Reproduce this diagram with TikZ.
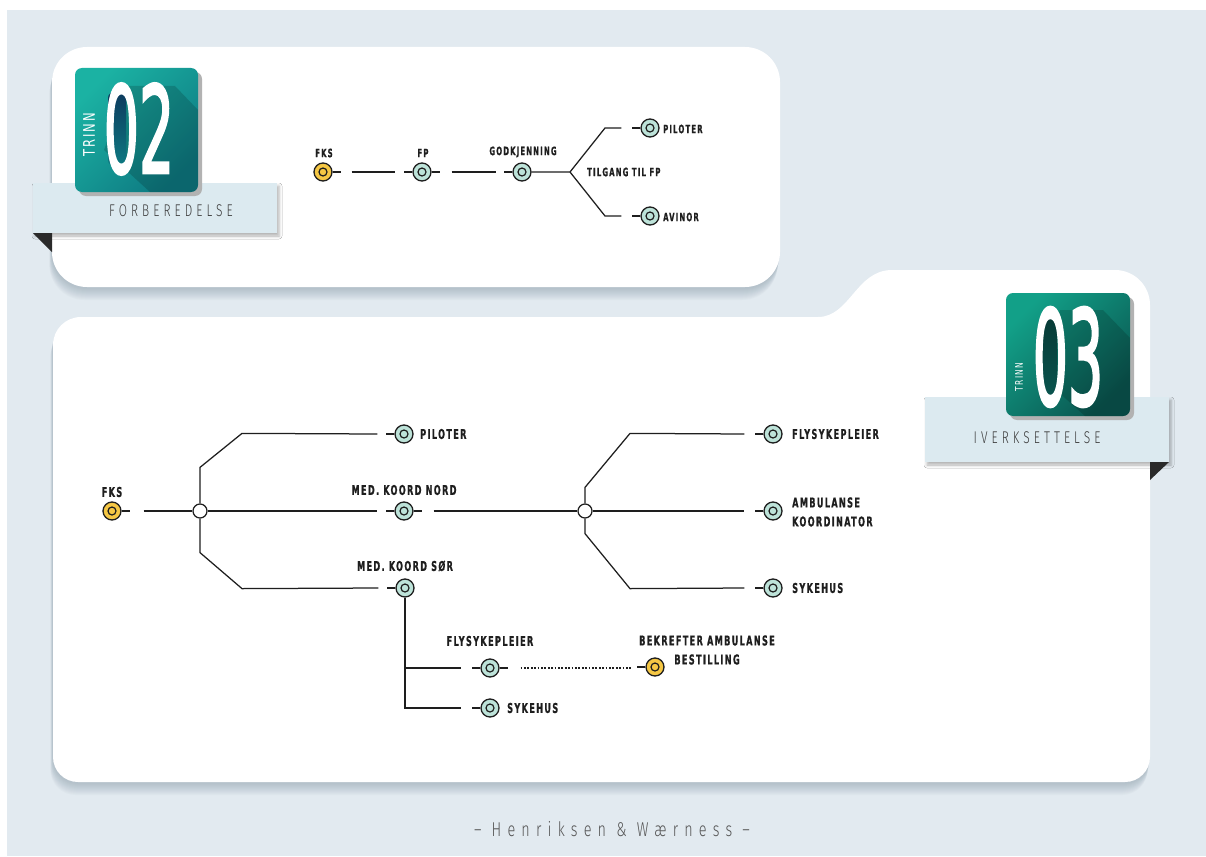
\documentclass[tikz,border=0pt]{standalone}
\usepackage{fontspec}
\usetikzlibrary{shadows.blur}

\newfontfamily\labfont{DejaVu Sans Condensed Bold}[FakeStretch=0.67,LetterSpace=10,FakeBold=0.8]
\newfontfamily\digfont{DejaVu Sans Condensed}[FakeBold=2.5]
\newfontfamily\trinnfont{DejaVu Sans Condensed}[FakeStretch=0.8,LetterSpace=12]
\newfontfamily\thinfont{Fira Sans Light}[FakeStretch=0.7,LetterSpace=24]
\newfontfamily\footfont{Fira Sans Light}[FakeStretch=0.72,LetterSpace=31]

\definecolor{bg}{HTML}{E2EAF0}
\definecolor{nodeteal}{HTML}{BDE3D9}
\definecolor{nodegold}{HTML}{F5C744}
\definecolor{ribbon}{HTML}{DCEAF0}
\definecolor{inkk}{HTML}{1E1E1E}
\definecolor{foldc}{HTML}{2A2A2A}
\definecolor{tealA}{HTML}{1BB2A3}
\definecolor{tealB}{HTML}{0E7A82}
\definecolor{navyC}{HTML}{0D3A5E}
\definecolor{greenA}{HTML}{12A088}
\definecolor{greenB}{HTML}{0A5650}
\definecolor{greenC}{HTML}{073A36}
\definecolor{ribtext}{HTML}{3C3C3C}
\definecolor{foottext}{HTML}{555555}
\definecolor{shadowc}{HTML}{6F8796}

% outlines of the two cards
\def\topcard{[rounded corners=35pt] (52,47) rectangle (780,287)}
\def\bottomcard{(53,757) -- (53,345) .. controls (53,329.5) and (65.5,317) .. (81,317)
    -- (818,317) .. controls (850,317) and (856,270) .. (892,270)
    -- (1115,270) .. controls (1134.3,270) and (1150,285.7) .. (1150,305)
    -- (1150,757) .. controls (1150,770.8) and (1138.8,782) .. (1125,782)
    -- (78,782) .. controls (64.2,782) and (53,770.8) .. (53,757) -- cycle}

\tikzset{
  link/.style={draw=inkk, line width=1.25pt},
  dotline/.style={draw=inkk, line width=1.3pt, dash pattern=on 1.8pt off 1.6pt},
  station/.style={circle, draw=inkk, line width=1.3pt, minimum size=18pt,
    inner sep=0pt, fill=nodeteal,
    path picture={\draw[inkk, line width=1.2pt]
      (path picture bounding box.center) circle (4pt);}},
  gold/.style={station, fill=nodegold},
  tickL/.style={append after command={(\tikzlastnode.west) edge[link] +(-8pt,0pt)}},
  tickR/.style={append after command={(\tikzlastnode.east) edge[link] +(8pt,0pt)}},
  junction/.style={circle, draw=inkk, fill=white, line width=1.25pt,
    minimum size=14pt, inner sep=0pt},
  lab/.style={font=\labfont\fontsize{13.5}{19}\selectfont, text=inkk, inner sep=0pt},
  labs/.style={font=\labfont\fontsize{11.5}{14}\selectfont, text=inkk, inner sep=0pt},
  ribbontext/.style={font=\thinfont\fontsize{17}{17}\selectfont, text=ribtext, inner sep=0pt},
  cardshadow/.style={fill=shadowc, opacity=0.035},
  ribbonbox/.style={fill=ribbon, blur shadow={shadow xshift=2pt, shadow yshift=-3pt,
    shadow blur radius=3pt, shadow opacity=30}},
  digits/.style={text=white, inner sep=0pt, font=\digfont\fontsize{70}{70}\selectfont},
  trinn/.style={text=white, inner sep=0pt, rotate=90},
}

\begin{document}
\begin{tikzpicture}[x=1pt, y=-1pt]
  % page and backdrop
  \fill[white] (0,0) rectangle (1206,856);
  \fill[bg] (7,10) rectangle (1206,856);
  \useasboundingbox (0,0) rectangle (1206,856);

  % the two cards, with a soft shadow beneath
  \foreach \s in {2,3,...,13} {
    \fill[cardshadow, yshift=-\s pt, xshift=-0.2*\s pt] \topcard;
    \fill[cardshadow, yshift=-\s pt, xshift=-0.2*\s pt] \bottomcard;
  }
  \fill[white] \topcard;
  \fill[white] \bottomcard;

  % ---------- badge: step 02 ----------
  \path[ribbonbox] (33,183) rectangle (277,233);
  \fill[foldc] (33,233) -- (52,233) -- (52,252) -- cycle;
  \node[ribbontext] (rib2) at (171,211) {FORBEREDELSE};
  \fill[black!30, rounded corners=7pt] (79,72) rectangle (202,196);
  \shade[rounded corners=7pt, top color=tealA, bottom color=tealB, shading angle=45]
    (75,68) rectangle (198,192);
  \begin{scope}
    \clip[rounded corners=7pt] (75,68) rectangle (198,192);
    \fill[black, opacity=0.16] (128,86) -- (175,86) -- (198,110) -- (198,192)
      -- (150,192) -- (104,150) -- cycle;
    \shade[top color=navyC, bottom color=tealB, rounded corners=6pt]
      (108,92) rectangle (126,166);
  \end{scope}
  \node[digits] (num2) at (139,129) {\scalebox{0.88}[1.72]{02}};
  \node[trinn, font=\trinnfont\fontsize{16}{16}\selectfont] (tr2) at (89,135) {TRINN};

  % ---------- badge: step 03 ----------
  \path[ribbonbox] (925,397) rectangle (1169,462);
  \fill[foldc] (1150,462) -- (1169,462) -- (1150,480) -- cycle;
  \node[ribbontext] (rib3) at (1037,438) {IVERKSETTELSE};
  \fill[black!30, rounded corners=7pt] (1010,297) rectangle (1134,420);
  \shade[rounded corners=7pt, top color=greenA, bottom color=greenB, shading angle=45]
    (1006,293) rectangle (1130,416);
  \begin{scope}
    \clip[rounded corners=7pt] (1006,293) rectangle (1130,416);
    \fill[black, opacity=0.16] (1060,310) -- (1103,310) -- (1130,338) -- (1130,416)
      -- (1085,416) -- (1036,372) -- cycle;
    \shade[top color=greenC, bottom color=greenB, rounded corners=6pt]
      (1039,317) rectangle (1057,401);
  \end{scope}
  \node[digits] (num3) at (1068,357) {\scalebox{0.88}[1.88]{03}};
  \node[trinn, font=\trinnfont\fontsize{10.5}{10.5}\selectfont] (tr3) at (1019,377) {TRINN};

  % ---------- preparation flow ----------
  \node[gold, tickR] (t-fks) at (323,172) {};
  \node[station, tickL, tickR] (t-fp) at (422,172) {};
  \node[station, tickL] (t-god) at (522,172) {};
  \node[station, tickL] (t-pil) at (650,128) {};
  \node[station, tickL] (t-avi) at (650,216) {};
  \coordinate (t-br) at (570,172);

  \draw[link, shorten <=19pt, shorten >=17pt] (t-fks.east) -- (t-fp.west);
  \draw[link, shorten <=20pt, shorten >=16pt] (t-fp.east) -- (t-god.west);
  \draw[link] (t-god.east) -- (t-br) -- ++(35,-44) -- ([xshift=-19pt]t-pil.west);
  \draw[link] (t-br) -- ++(35,44) -- ([xshift=-19pt]t-avi.west);

  \node[labs] at (324,153) {FKS};
  \node[labs] at (423,153) {FP};
  \node[labs] at (523,152) {GODKJENNING};
  \node[labs, anchor=west] at (587,172) {TILGANG TIL FP};
  \node[labs, anchor=west] at (663,129) {PILOTER};
  \node[labs, anchor=west] at (663,217) {AVINOR};

  % ---------- execution flow ----------
  \node[gold, tickR] (b-fks) at (112,511) {};
  \node[junction] (j1) at (200,511) {};
  \node[station, tickL] (b-pil) at (404,434) {};
  \node[station, tickL, tickR] (b-nord) at (404,511) {};
  \node[station, tickL] (b-sor) at (405,588) {};
  \node[junction] (j2) at (585,511) {};
  \node[station, tickL] (b-fly) at (773,434) {};
  \node[station, tickL] (b-amb) at (773,511) {};
  \node[station, tickL] (b-syk) at (773,588) {};
  \node[station, tickL, tickR] (b-fly2) at (490,668) {};
  \node[gold, tickL] (b-bek) at (655,667) {};
  \node[station, tickL] (b-syk2) at (490,708) {};

  \draw[link, shorten <=22pt] (b-fks.east) -- (j1.west);
  \draw[link] (j1.north) -- ++(0,-36) -- ++(42,-34) -- ([xshift=-17pt]b-pil.west);
  \draw[link, shorten >=17pt] (j1.east) -- (b-nord.west);
  \draw[link] (j1.south) -- ++(0,34) -- ++(42,36) -- ([xshift=-17pt]b-sor.west);
  \draw[link, shorten <=20pt] (b-nord.east) -- (j2.west);
  \draw[link] (j2.north) -- ++(0,-16) -- ++(45,-54) -- ([xshift=-19pt]b-fly.west);
  \draw[link, shorten >=19pt] (j2.east) -- (b-amb.west);
  \draw[link] (j2.south) -- ++(0,15) -- ++(45,55) -- ([xshift=-19pt]b-syk.west);
  \draw[link] (b-sor.south) -- (b-sor.south |- b-syk2.center) -- ([xshift=-19pt]b-syk2.west);
  \draw[link] (b-sor.south |- b-fly2.center) -- ([xshift=-19pt]b-fly2.west);
  \draw[dotline, shorten <=21pt, shorten >=14pt] (b-fly2.east) -- (b-bek.west |- b-fly2.center);

  \node[lab] at (112,492) {FKS};
  \node[lab] at (404,490) {MED. KOORD NORD};
  \node[lab] at (405,566) {MED. KOORD SØR};
  \node[lab, anchor=west] at (420,434) {PILOTER};
  \node[lab, anchor=west] at (792,434) {FLYSYKEPLEIER};
  \node[lab, anchor=west, align=left] at (792,512) {AMBULANSE\\KOORDINATOR};
  \node[lab, anchor=west] at (792,588) {SYKEHUS};
  \node[lab] at (490,641) {FLYSYKEPLEIER};
  \node[lab, align=center] at (707,650) {BEKREFTER AMBULANSE\\BESTILLING};
  \node[lab, anchor=west] at (507,708) {SYKEHUS};

  % ---------- credit line ----------
  \node[font=\footfont\fontsize{20}{20}\selectfont, text=foottext, inner sep=0pt]
    (credit) at (612,829) {– Henriksen \& Wærness –};
\end{tikzpicture}
\end{document}
